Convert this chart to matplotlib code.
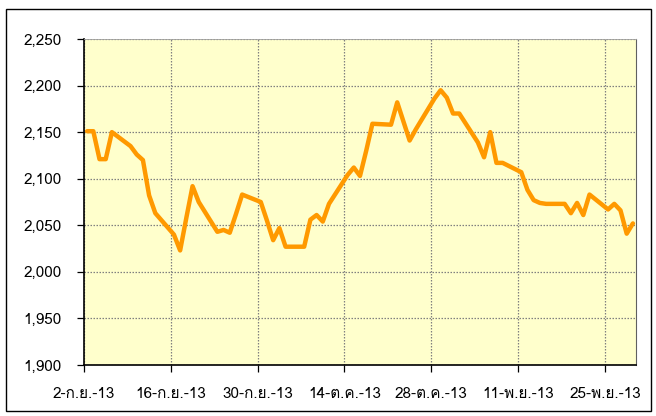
import datetime as dt
import matplotlib
matplotlib.use("Agg")
import matplotlib.pyplot as plt
import matplotlib.dates as mdates
from matplotlib.ticker import FixedLocator, FuncFormatter, MultipleLocator
from matplotlib import font_manager
from matplotlib.ft2font import FT2Font
from matplotlib.patches import Rectangle

# ---------------- data ----------------
dates = [
    "2013-09-02", "2013-09-03", "2013-09-04", "2013-09-05", "2013-09-06",
    "2013-09-09", "2013-09-10", "2013-09-11", "2013-09-12", "2013-09-13",
    "2013-09-16", "2013-09-17", "2013-09-18", "2013-09-19", "2013-09-20",
    "2013-09-23", "2013-09-24", "2013-09-25", "2013-09-26", "2013-09-27",
    "2013-09-30", "2013-10-01", "2013-10-02", "2013-10-03", "2013-10-04",
    "2013-10-07", "2013-10-08", "2013-10-09", "2013-10-10", "2013-10-11",
    "2013-10-14", "2013-10-15", "2013-10-16", "2013-10-17", "2013-10-18",
    "2013-10-21", "2013-10-22", "2013-10-24", "2013-10-25",
    "2013-10-28", "2013-10-29", "2013-10-30", "2013-10-31", "2013-11-01",
    "2013-11-04", "2013-11-05", "2013-11-06", "2013-11-07", "2013-11-08",
    "2013-11-11", "2013-11-12", "2013-11-13", "2013-11-14", "2013-11-15",
    "2013-11-18", "2013-11-19", "2013-11-20", "2013-11-21", "2013-11-22",
    "2013-11-25", "2013-11-26", "2013-11-27", "2013-11-28", "2013-11-29",
]
values = [
    2151, 2151, 2121, 2121, 2150,
    2135, 2126, 2120, 2082, 2063,
    2040, 2023, 2058, 2092, 2075,
    2043, 2045, 2042, 2062, 2083,
    2075, 2055, 2034, 2047, 2027,
    2027, 2056, 2061, 2054, 2073,
    2104, 2112, 2103, 2130, 2159,
    2158, 2182, 2141, 2153,
    2186, 2195, 2187, 2170, 2170,
    2139, 2123, 2150, 2117, 2117,
    2107, 2088, 2077, 2074, 2073,
    2073, 2063, 2074, 2061, 2083,
    2067, 2073, 2066, 2041, 2052,
]
tick_dates = ["2013-09-02", "2013-09-16", "2013-09-30", "2013-10-14",
              "2013-10-28", "2013-11-11", "2013-11-25"]
tick_labels = ["2-ก.ย.-13", "16-ก.ย.-13", "30-ก.ย.-13", "14-ต.ค.-13",
               "28-ต.ค.-13", "11-พ.ย.-13", "25-พ.ย.-13"]
x_start, x_end = "2013-09-02", "2013-11-30"
y_min, y_max, y_step = 1900, 2250, 50

# ---------------- fonts ----------------
thai_font = None
for pref in ("Tahoma", "Loma", "Garuda", "Norasi", "Noto Sans Thai"):
    try:
        font_manager.findfont(pref, fallback_to_default=False)
        thai_font = pref
        break
    except Exception:
        pass
if thai_font is None:
    for f in font_manager.fontManager.ttflist:
        try:
            if 0x0E01 in FT2Font(f.fname).get_charmap():
                thai_font = f.name
                break
        except Exception:
            pass
families = ([thai_font] if thai_font else []) + ["DejaVu Sans"]
plt.rcParams["font.family"] = families

# ---------------- plot ----------------
W, H = 656, 416
fig = plt.figure(figsize=(W / 100, H / 100), dpi=100)
fig.patch.set_facecolor("white")
L, R, T, B = 84, 636, 39, 365
ax = fig.add_axes([L / W, 1 - B / H, (R - L) / W, (B - T) / H])
ax.set_facecolor("#FFFFCC")

to_num = lambda s: mdates.date2num(dt.datetime.strptime(s, "%Y-%m-%d"))
xs = [to_num(d) + 0.5 for d in dates]
ax.plot(xs, values, color="#FF9900", linewidth=3.2, solid_joinstyle="round",
        solid_capstyle="round", zorder=3)

ax.set_xlim(to_num(x_start), to_num(x_end))
ax.set_ylim(y_min, y_max)
ax.xaxis.set_major_locator(FixedLocator([to_num(d) for d in tick_dates]))
ax.set_xticklabels(tick_labels)
ax.yaxis.set_major_locator(MultipleLocator(y_step))
ax.yaxis.set_major_formatter(FuncFormatter(lambda v, p: f"{int(v):,}"))

ax.grid(True, color="#808080", linestyle=(0, (1.2, 1.2)), linewidth=0.9)
ax.set_axisbelow(True)
ax.tick_params(axis="both", direction="out", length=5, width=0.9,
               colors="black", labelsize=11)
ax.tick_params(axis="y", pad=11)
ax.tick_params(axis="x", pad=11)

for side in ("left", "bottom"):
    ax.spines[side].set_color("black")
    ax.spines[side].set_linewidth(1.2)
ax.spines["top"].set_color("#A0A0A0")
ax.spines["top"].set_linewidth(0.6)
ax.spines["right"].set_color("#606060")
ax.spines["right"].set_linewidth(0.8)

# chart-area border
fig.patches.append(Rectangle((6 / W, 1 - 411 / H), (651 - 6) / W, (411 - 9) / H,
                             transform=fig.transFigure, fill=False,
                             edgecolor="black", linewidth=1.0))

fig.savefig("out.png", dpi=100)
